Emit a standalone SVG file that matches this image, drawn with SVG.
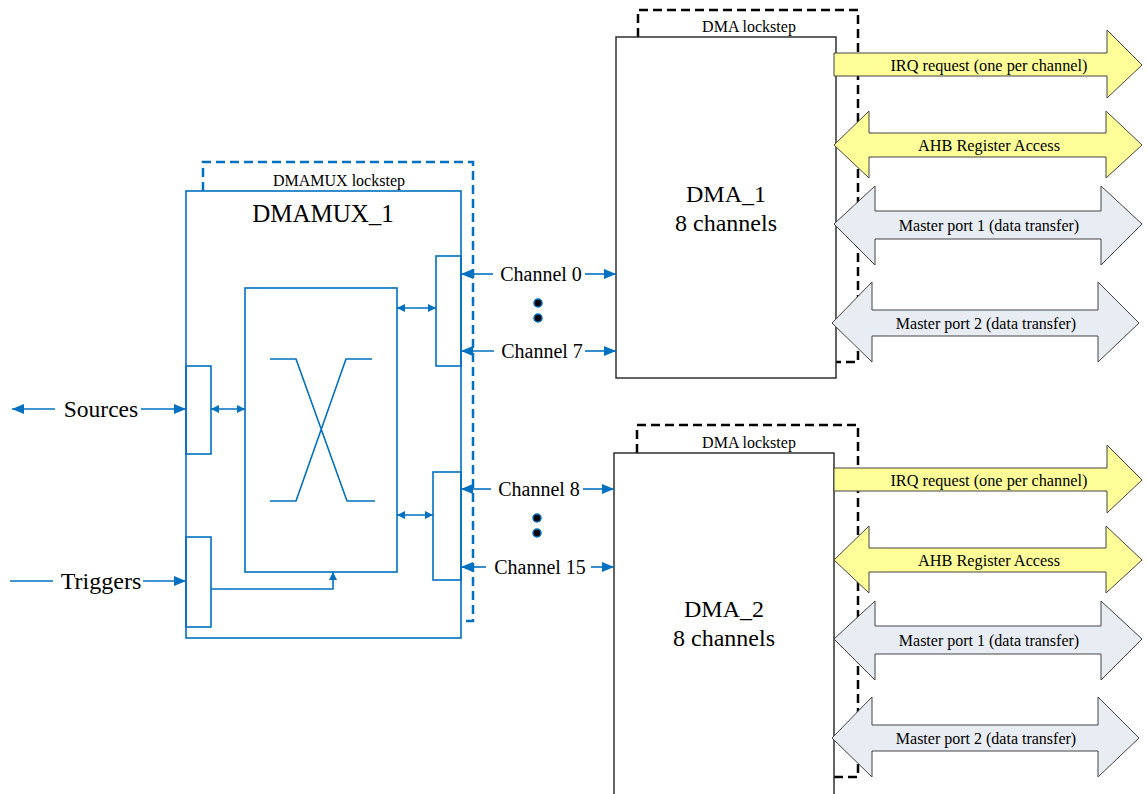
<svg xmlns="http://www.w3.org/2000/svg" width="1147" height="794" viewBox="0 0 1147 794" font-family="Liberation Serif, Times New Roman, serif">
<style>
.b{fill:none;stroke:#0070C0;stroke-width:1.6}
.bw{fill:#fff;stroke:#0070C0;stroke-width:1.6}
.bd{fill:none;stroke:#0070C0;stroke-width:2.5;stroke-dasharray:9 5}
.kd{fill:none;stroke:#000;stroke-width:2.5;stroke-dasharray:9 5}
.box{fill:#fff;stroke:#222;stroke-width:1.4}
.y{fill:#FFFF99;stroke:#444;stroke-width:1}
.g{fill:#E8ECF3;stroke:#444;stroke-width:1}
text{fill:#000;text-anchor:middle}
.c{stroke:#0070C0;stroke-width:1.6;fill:none}
.dot{fill:#000;stroke:#0070C0;stroke-width:1.5}
</style>
<defs>
<marker id="ah" markerUnits="userSpaceOnUse" viewBox="0 0 12 10" refX="12" refY="5" markerWidth="12" markerHeight="10" orient="auto-start-reverse"><path d="M0,0 L12,5 L0,10 z" fill="#0070C0"/></marker>
<marker id="as" markerUnits="userSpaceOnUse" viewBox="0 0 8 8" refX="8" refY="4" markerWidth="8" markerHeight="8" orient="auto-start-reverse"><path d="M0,0 L8,4 L0,8 z" fill="#0070C0"/></marker>
</defs>

<g id="dmamux">
<path class="bd" d="M203,191 V162 H473 V621 H461"/>
<rect class="bw" x="186" y="191" width="275" height="447"/>
<text x="339" y="186" font-size="16">DMAMUX lockstep</text>
<text x="323" y="222" font-size="25">DMAMUX_1</text>
<rect class="b" x="245" y="288" width="152" height="284"/>
<path class="b" d="M270,359 H296 L347,501 H375 M372,359 H346 L296,501 H270"/>
<rect class="b" x="436" y="256" width="25" height="110"/>
<rect class="b" x="433" y="472" width="28" height="108"/>
<rect class="b" x="186" y="366" width="25" height="88"/>
<rect class="b" x="186" y="537" width="25" height="90"/>
</g>

<g id="dma1">
<path class="kd" d="M638,37 V10 H858 V362 H836"/>
<rect class="box" x="616" y="37" width="220" height="341"/>
<text x="749" y="32" font-size="16">DMA lockstep</text>
<text x="726" y="202" font-size="24">DMA_1</text>
<text x="726" y="231" font-size="24">8 channels</text>
<path class="y" d="M834,53 H1107 V30 L1142,65 L1107,98 V76 H834 z"/>
<text x="989" y="71" font-size="16.3">IRQ request (one per channel)</text>
<path class="y" d="M834,145 L869,111 V133 H1106 V111 L1142,145 L1106,178 V157 H869 V178 z"/>
<text x="989" y="151" font-size="16.3">AHB Register Access</text>
<path class="g" d="M834,224 L875,186 V211 H1101 V186 L1142,224 L1101,265 V239 H875 V265 z"/>
<text x="989" y="231" font-size="16">Master port 1 (data transfer)</text>
<path class="g" d="M832,323 L872,282 V310 H1098 V282 L1139,323 L1098,362 V336 H872 V362 z"/>
<text x="986" y="329" font-size="16">Master port 2 (data transfer)</text>
</g>

<g id="dma2">
<path class="kd" d="M637,453 V425 H858 V777 H834"/>
<rect class="box" x="614" y="453" width="220" height="350"/>
<text x="749" y="448" font-size="16">DMA lockstep</text>
<text x="724" y="617" font-size="24">DMA_2</text>
<text x="724" y="646" font-size="24">8 channels</text>
<path class="y" d="M834,468 H1107 V445 L1142,480 L1107,513 V491 H834 z"/>
<text x="989" y="486" font-size="16.3">IRQ request (one per channel)</text>
<path class="y" d="M834,560 L869,526 V548 H1106 V526 L1142,560 L1106,593 V572 H869 V593 z"/>
<text x="989" y="566" font-size="16.3">AHB Register Access</text>
<path class="g" d="M834,639 L875,601 V626 H1101 V601 L1142,639 L1101,680 V654 H875 V680 z"/>
<text x="989" y="646" font-size="16">Master port 1 (data transfer)</text>
<path class="g" d="M832,738 L872,697 V725 H1098 V697 L1139,738 L1098,777 V751 H872 V777 z"/>
<text x="986" y="744" font-size="16">Master port 2 (data transfer)</text>
</g>

<g id="labels">
<text x="101" y="417" font-size="23.5">Sources</text>
<text x="101" y="589" font-size="24">Triggers</text>
<text x="541" y="281" font-size="20">Channel 0</text>
<text x="542" y="358" font-size="20">Channel 7</text>
<text x="539" y="496" font-size="20">Channel 8</text>
<text x="540" y="574" font-size="20">Channel 15</text>
<circle class="dot" cx="538" cy="303" r="4"/>
<circle class="dot" cx="538" cy="318" r="4"/>
<circle class="dot" cx="537" cy="518" r="4"/>
<circle class="dot" cx="537" cy="533" r="4"/>
</g>

<g id="connectors">
<line class="c" x1="55" y1="409" x2="12" y2="409" marker-end="url(#ah)"/>
<line class="c" x1="141" y1="409" x2="186" y2="409" marker-end="url(#ah)"/>
<line class="c" x1="211" y1="409" x2="245" y2="409" marker-start="url(#as)" marker-end="url(#as)"/>
<line class="c" x1="10" y1="581" x2="53" y2="581"/>
<line class="c" x1="143" y1="581" x2="186" y2="581" marker-end="url(#ah)"/>
<polyline class="c" points="211,589 333,589 333,572" marker-end="url(#as)"/>
<line class="c" x1="397" y1="308" x2="436" y2="308" marker-start="url(#as)" marker-end="url(#as)"/>
<line class="c" x1="397" y1="515" x2="433" y2="515" marker-start="url(#as)" marker-end="url(#as)"/>
<line class="c" x1="493" y1="274" x2="461" y2="274" marker-end="url(#ah)"/>
<line class="c" x1="585" y1="274" x2="616" y2="274" marker-end="url(#ah)"/>
<line class="c" x1="494" y1="351" x2="461" y2="351" marker-end="url(#ah)"/>
<line class="c" x1="585" y1="351" x2="616" y2="351" marker-end="url(#ah)"/>
<line class="c" x1="491" y1="489" x2="461" y2="489" marker-end="url(#ah)"/>
<line class="c" x1="583" y1="489" x2="614" y2="489" marker-end="url(#ah)"/>
<line class="c" x1="486" y1="567" x2="461" y2="567" marker-end="url(#ah)"/>
<line class="c" x1="591" y1="567" x2="614" y2="567" marker-end="url(#ah)"/>
</g>
</svg>
